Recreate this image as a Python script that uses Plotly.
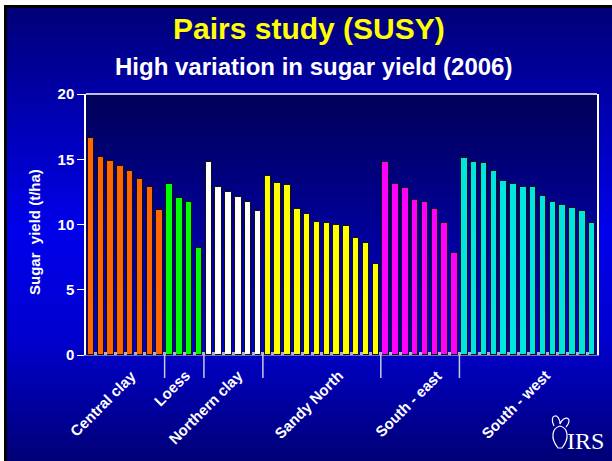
import plotly.graph_objects as go

# ---------------- data ----------------
group_names = ["Central clay", "Loess", "Northern clay", "Sandy North", "South - east", "South - west"]
central_clay = [16.6, 15.2, 14.9, 14.5, 14.1, 13.5, 12.9, 11.1]
loess = [13.1, 12.0, 11.7, 8.2]
northern_clay = [14.8, 12.9, 12.5, 12.1, 11.7, 11.0]
sandy_north = [13.7, 13.2, 13.0, 11.2, 10.8, 10.2, 10.1, 10.0, 9.9, 9.0, 8.6, 7.0]
south_east = [14.8, 13.1, 12.8, 11.9, 11.7, 11.2, 10.1, 7.8]
south_west = [15.1, 14.8, 14.7, 14.1, 13.3, 13.1, 12.9, 12.9, 12.2, 11.7, 11.5, 11.3, 11.0, 10.1]
y_ticks = [0, 5, 10, 15, 20]

groups = [central_clay, loess, northern_clay, sandy_north, south_east, south_west]

# ---------------- style ----------------
group_colors = ["#ff6600", "#00ff00", "#ffffff", "#ffff00", "#ff00ff", "#00e5e0"]
label_shift = [1.7, 1.1, 1.5, 2.75, 2.8, 2.8]   # label right-end offset from group centre (x units)
FONT = "Liberation Sans, Arial, sans-serif"
W, H = 612, 461
ML, MR, MT, MB = 86, 15, 94, 106
PW, PH = W - ML - MR, H - MT - MB


def px2paper_x(px):
    return (px - ML) / PW


def px2paper_y(py):
    return (H - MB - py) / PH


def interp(stops, y):
    for (y0, c0), (y1, c1) in zip(stops, stops[1:]):
        if y0 <= y <= y1:
            t = (y - y0) / (y1 - y0)
            return tuple(int(round(a + (b - a) * t)) for a, b in zip(c0, c1))
    return stops[-1][1]


shapes = []
# outer background gradient
outer_stops = [(0, (0, 0, 115)), (110, (0, 0, 175)), (230, (0, 0, 235)), (340, (0, 0, 205)), (461, (0, 0, 118))]
step = 4
for y in range(0, H, step):
    r, g, b = interp(outer_stops, y + step / 2)
    shapes.append(dict(type="rect", xref="paper", yref="paper", layer="below",
                       x0=px2paper_x(0), x1=px2paper_x(W), y0=px2paper_y(y + step), y1=px2paper_y(y),
                       fillcolor=f"rgb({r},{g},{b})", line=dict(width=0)))
# plot area gradient
plot_stops = [(MT, (0, 0, 88)), (H - MB, (0, 0, 210))]
for y in range(MT, H - MB, 3):
    y2 = min(y + 3, H - MB)
    r, g, b = interp(plot_stops, (y + y2) / 2)
    shapes.append(dict(type="rect", xref="paper", yref="paper", layer="below",
                       x0=0, x1=1, y0=px2paper_y(y2), y1=px2paper_y(y),
                       fillcolor=f"rgb({r},{g},{b})", line=dict(width=0)))
# frame at top/left edge
shapes.append(dict(type="rect", xref="paper", yref="paper", layer="above",
                   x0=px2paper_x(0), x1=px2paper_x(4), y0=px2paper_y(H), y1=px2paper_y(0),
                   fillcolor="white", line=dict(width=0)))
shapes.append(dict(type="rect", xref="paper", yref="paper", layer="above",
                   x0=px2paper_x(0), x1=px2paper_x(W), y0=px2paper_y(5), y1=px2paper_y(0),
                   fillcolor="white", line=dict(width=0)))
shapes.append(dict(type="rect", xref="paper", yref="paper", layer="above",
                   x0=px2paper_x(4), x1=px2paper_x(7), y0=px2paper_y(H), y1=px2paper_y(5),
                   fillcolor="black", line=dict(width=0)))
shapes.append(dict(type="rect", xref="paper", yref="paper", layer="above",
                   x0=px2paper_x(4), x1=px2paper_x(W), y0=px2paper_y(8), y1=px2paper_y(5),
                   fillcolor="black", line=dict(width=0)))

fig = go.Figure()
annotations = []
start = 0
boundaries = []
for name, vals, col, shift in zip(group_names, groups, group_colors, label_shift):
    xs = list(range(start, start + len(vals)))
    fig.add_trace(go.Bar(x=xs, y=vals, name=name, width=0.66,
                         marker=dict(color=col, line=dict(color="#111111", width=1))))
    centre = start + (len(vals) - 1) / 2
    annotations.append(dict(x=centre + shift, y=px2paper_y(364), xref="x", yref="paper",
                            text=name, textangle=-45, xanchor="right", yanchor="top",
                            showarrow=False, font=dict(family=FONT, size=15, color="white", weight="bold")))
    start += len(vals)
    boundaries.append(start - 0.5)
n_total = start

for bx in boundaries[:-1]:
    shapes.append(dict(type="line", xref="x", yref="paper", x0=bx, x1=bx, y0=0, y1=px2paper_y(378),
                       line=dict(color="#c8c8e8", width=1.5)))

annotations += [
    dict(x=px2paper_x(309), y=px2paper_y(28), xref="paper", yref="paper", text="Pairs study (SUSY)",
         showarrow=False, xanchor="center", yanchor="middle",
         font=dict(family=FONT, size=30, color="#ffff00", weight="bold")),
    dict(x=px2paper_x(313), y=px2paper_y(66), xref="paper", yref="paper",
         text="High variation in sugar yield (2006)",
         showarrow=False, xanchor="center", yanchor="middle",
         font=dict(family=FONT, size=24, color="white", weight="bold")),
    dict(x=px2paper_x(34), y=px2paper_y(232), xref="paper", yref="paper", text="Sugar  yield (t/ha)",
         textangle=-90, showarrow=False, xanchor="center", yanchor="middle",
         font=dict(family=FONT, size=15, color="white", weight="bold")),
    dict(x=px2paper_x(606), y=px2paper_y(441), xref="paper", yref="paper", text="IRS",
         showarrow=False, xanchor="right", yanchor="middle",
         font=dict(family="Liberation Serif, serif", size=24, color="white")),
]

# small beet logo outline
lx, ly = 558, 430
path = (f"M {px2paper_x(lx)},{px2paper_y(ly+18)} C {px2paper_x(lx-8)},{px2paper_y(ly+8)} "
        f"{px2paper_x(lx-6)},{px2paper_y(ly-2)} {px2paper_x(lx+2)},{px2paper_y(ly-4)} "
        f"C {px2paper_x(lx+10)},{px2paper_y(ly-2)} {px2paper_x(lx+12)},{px2paper_y(ly+8)} "
        f"{px2paper_x(lx+4)},{px2paper_y(ly+18)} Z")
shapes.append(dict(type="path", xref="paper", yref="paper", path=path, line=dict(color="white", width=1.2)))
path2 = (f"M {px2paper_x(lx-4)},{px2paper_y(ly-4)} C {px2paper_x(lx-10)},{px2paper_y(ly-16)} "
         f"{px2paper_x(lx+2)},{px2paper_y(ly-18)} {px2paper_x(lx+2)},{px2paper_y(ly-6)} "
         f"C {px2paper_x(lx+6)},{px2paper_y(ly-16)} {px2paper_x(lx+16)},{px2paper_y(ly-12)} "
         f"{px2paper_x(lx+8)},{px2paper_y(ly-3)}")
shapes.append(dict(type="path", xref="paper", yref="paper", path=path2, line=dict(color="white", width=1.2)))

shapes.append(dict(type="line", xref="paper", yref="paper", x0=0, x1=1, y0=1, y1=1,
                   line=dict(color="white", width=1.5)))

fig.update_layout(
    width=W, height=H, margin=dict(l=ML, r=MR, t=MT, b=MB),
    paper_bgcolor="#0000a0", plot_bgcolor="rgba(0,0,0,0)",
    showlegend=False, bargap=0, shapes=shapes, annotations=annotations,
    font=dict(family=FONT, color="white"),
)
fig.update_xaxes(range=[-0.5, n_total - 0.5], showgrid=False, zeroline=False,
                 showline=True, linecolor="#7070c0", linewidth=1, mirror=False,
                 tickmode="array", tickvals=[i + 0.5 for i in range(-1, n_total)],
                 ticks="inside", ticklen=3, tickcolor="#b0b0d0", tickwidth=3, showticklabels=False)
fig.update_yaxes(range=[0, 20], showgrid=False, zeroline=False,
                 showline=True, linecolor="white", linewidth=1.5, mirror=True,
                 tickmode="array", tickvals=y_ticks, ticks="outside", ticklen=7, tickcolor="white",
                 tickfont=dict(family=FONT, size=15, color="white", weight="bold"))

fig.write_html("out.html", config={"displayModeBar": False},
               post_script="document.body.style.margin='0';document.body.style.overflow='hidden';")
